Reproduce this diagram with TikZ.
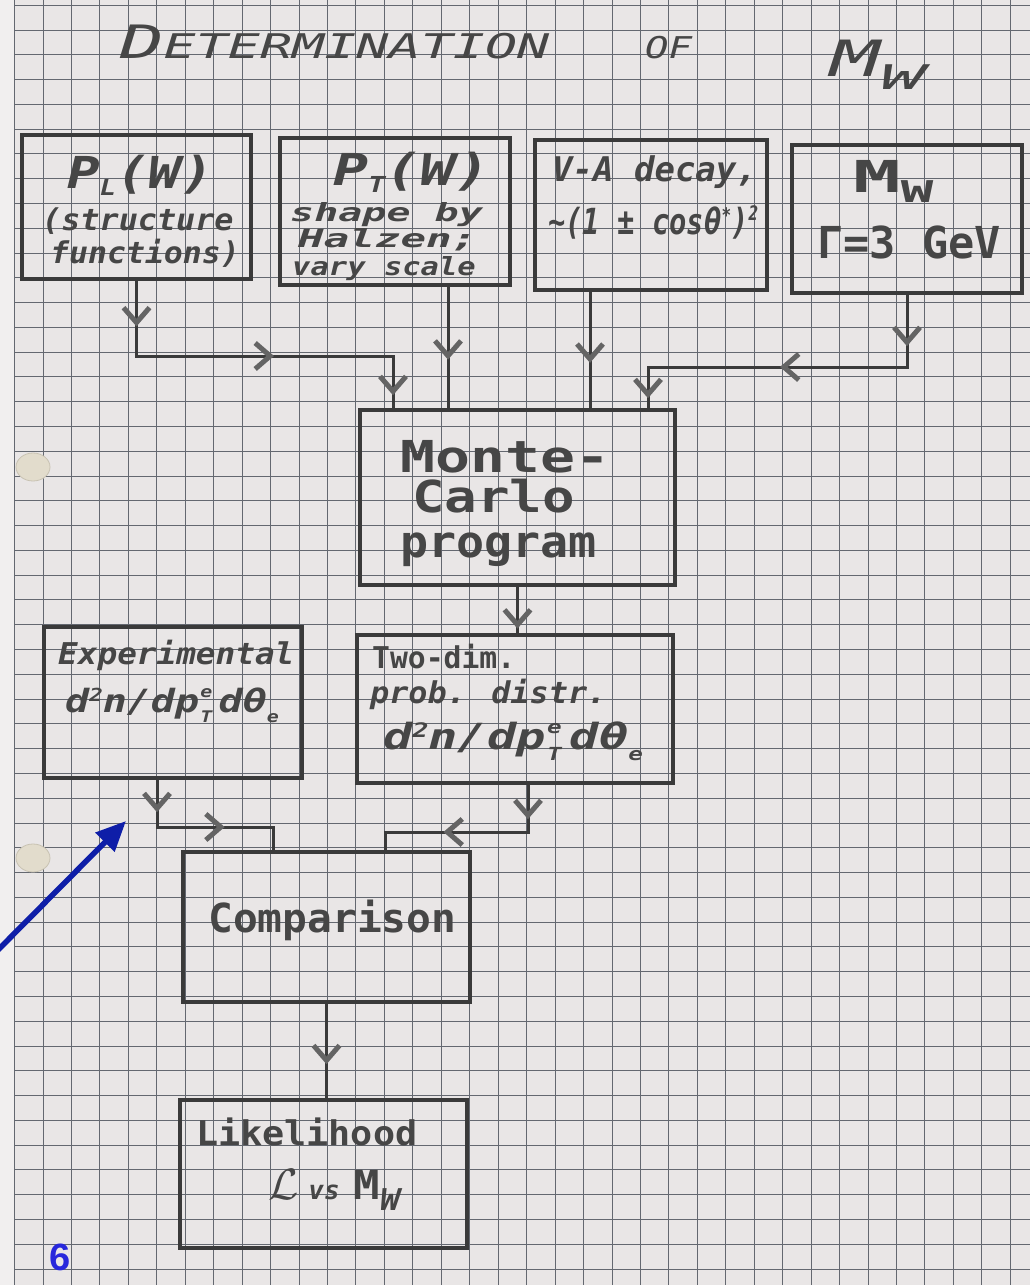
\documentclass[tikz,border=0pt]{standalone}
\usepackage{fontspec}
\usepackage{graphicx}
\usetikzlibrary{arrows.meta,decorations.markings,calc}
\newfontfamily\hand{DejaVu Sans Mono}
\newfontfamily\numfont{Liberation Sans}
\definecolor{paper}{RGB}{233,230,230}
\definecolor{paperedge}{RGB}{241,239,239}
\definecolor{gridc}{RGB}{100,104,112}
\definecolor{boxc}{RGB}{58,58,58}
\definecolor{inkc}{RGB}{70,70,70}
\definecolor{headc}{RGB}{100,100,100}
\definecolor{blueA}{RGB}{14,30,168}
\definecolor{blueN}{RGB}{40,40,220}
\definecolor{holec}{RGB}{226,220,204}
\definecolor{holeedge}{RGB}{200,194,178}
\newcommand{\fs}[1]{\fontsize{#1}{#1}\selectfont}
\newcommand{\sx}[2]{\scalebox{#1}[1]{#2}}
\tikzset{
  hd/.tip={Straight Barb[length=15pt,width=26pt,line width=5pt,color=headc]},
  gridl/.style={draw=gridc,line width=0.9pt},
  box/.style={draw=boxc,line width=3.5pt,inner sep=0pt},
  txt/.style={inner sep=0pt,anchor=base west,text=inkc,font=\hand\bfseries},
  conn/.style={draw=boxc,line width=3pt},
  amark/.style={postaction={decorate,decoration={markings,mark=at position #1 with {\arrow{hd}}}}},
  bluearr/.style={draw=blueA,line width=5.5pt,-{Triangle[length=30pt,width=26pt]}},
  hole/.style={fill=holec,draw=holeedge,line width=0.8pt}
}
\begin{document}
\begin{tikzpicture}[x=1pt,y=-1pt]
\useasboundingbox (0,0) rectangle (1030,1285);
% paper and grid
\fill[paperedge] (0,0) rectangle (1030,1285);
\fill[paper] (14.5,0) rectangle (1030,1285);
\foreach \i in {0,...,35} \draw[gridl] (14.5+28.45*\i,0) -- (14.5+28.45*\i,1285);
\foreach \j in {0,...,51} \draw[gridl] (14.5,5.2+24.78*\j) -- (1030,5.2+24.78*\j);
% reinforcement rings
\filldraw[hole] (33,467) ellipse [x radius=17pt,y radius=14pt];
\filldraw[hole] (33,858) ellipse [x radius=17pt,y radius=14pt];

% title
\node[txt,font=\hand\mdseries] (t1) at (120,58) {\itshape\sx{1.57}{\fs{46}D\fs{34}ETERMINATION}};
\node[txt,font=\hand\mdseries] (t2) at (645,58) {\itshape\sx{1.3}{\fs{30}OF}};
\node[txt,font=\hand\mdseries] (t3) at (830,76) {\itshape\sx{1.66}{\fs{50}M}\raisebox{-13pt}{\sx{2.2}{\fs{34}W}}};

% boxes
\node[box,minimum width=229pt,minimum height=144pt] (pl) at (136.5,207) {};
\node[box,minimum width=230pt,minimum height=147pt] (pt) at (395,211.5) {};
\node[box,minimum width=232pt,minimum height=150pt] (va) at (651,215) {};
\node[box,minimum width=230pt,minimum height=148pt] (mw) at (907,219) {};
\node[box,minimum width=315pt,minimum height=175pt] (mc) at (517.5,497.5) {};
\node[box,minimum width=258pt,minimum height=151pt] (ex) at (173,702.5) {};
\node[box,minimum width=316pt,minimum height=148pt] (two) at (515,709) {};
\node[box,minimum width=287pt,minimum height=150pt] (comp) at (326.5,927) {};
\node[box,minimum width=287pt,minimum height=148pt] (lik) at (323.5,1174) {};

% box texts
\node[txt] (pl1) at (67,188) {\itshape\sx{1.23}{\fs{44}P\raisebox{-7pt}{\fs{22}L}(W)}};
\node[txt] (pl2) at (42,230) {\itshape\sx{1.06}{\fs{30}(structure}};
\node[txt] (pl3) at (50,263) {\itshape\sx{1.05}{\fs{30}functions)}};

\node[txt] (pt1) at (333,185) {\itshape\sx{1.32}{\fs{44}P\raisebox{-7pt}{\fs{22}T}(W)}};
\node[txt] (pt2) at (290,221) {\itshape\sx{1.6}{\fs{25}shape by}};
\node[txt] (pt3) at (298,247) {\itshape\sx{1.7}{\fs{25}Halzen;}};
\node[txt] (pt4) at (292,275) {\itshape\sx{1.22}{\fs{25}vary scale}};

\node[txt] (va1) at (552,181) {\itshape\sx{1.0}{\fs{34}V-A decay,}};
\node[txt] (va2) at (548,234) {\itshape\sx{0.8}{\fs{36}\textasciitilde(1 ± cosθ\raisebox{12pt}{\fs{20}*})\raisebox{14pt}{\fs{20}2}}};

\node[txt] (mw1) at (853,192) {\sx{1.8}{\fs{44}M\raisebox{-10pt}{\fs{30}W}}};
\node[txt] (mw2) at (817,258) {\sx{0.99}{\fs{44}Γ=3 GeV}};

\node[txt] (mc1) at (400,472) {\sx{1.32}{\fs{44}Monte-}};
\node[txt] (mc2) at (412,512) {\sx{1.23}{\fs{44}Carlo}};
\node[txt] (mc3) at (400,557) {\sx{1.06}{\fs{44}program}};

\node[txt] (ex1) at (58,664) {\itshape\sx{1.09}{\fs{30}Experimental}};
\node[txt] (ex2) at (65,712) {\itshape\sx{1.25}{\fs{32}d\raisebox{11pt}{\fs{18}2}n/dp\kern1pt\rlap{\raisebox{15pt}{\fs{16}e}}\raisebox{-10pt}{\fs{16}T}\kern5pt dθ\raisebox{-10pt}{\fs{16}e}}};

\node[txt] (tw1) at (372,668) {\sx{0.99}{\fs{30}Two-dim.}};
\node[txt] (tw2) at (370,703) {\itshape\sx{1.06}{\fs{30}prob. distr.}};
\node[txt] (tw3) at (383,749) {\itshape\sx{1.35}{\fs{36}d\raisebox{12pt}{\fs{20}2}n/dp\kern1pt\rlap{\raisebox{16pt}{\fs{18}e}}\raisebox{-11pt}{\fs{18}T}\kern6pt dθ\raisebox{-11pt}{\fs{18}e}}};

\node[txt] (cp1) at (208,932) {\sx{1.03}{\fs{40}Comparison}};

\node[txt] (lk1) at (196,1145) {\sx{1.08}{\fs{34}Likelihood}};
\node[txt] (lk2) at (268,1199) {\resizebox{!}{30pt}{$\mathcal{L}$}\kern10pt\itshape\fs{26}vs\kern14pt\upshape\sx{1.1}{\fs{40}M\raisebox{-11pt}{\itshape\fs{30}W}}};

% junction coordinates
\coordinate (j1) at (393,356);
\coordinate (ptout) at ($(pt.south)+(53,0)$);
\coordinate (vaout) at ($(va.south)+(-61,0)$);
\coordinate (j4) at (648,367);
\coordinate (twout) at ($(two.south)+(13,0)$);
\coordinate (j6) at (385,832);
\coordinate (exout) at ($(ex.south)+(-16,0)$);
\coordinate (j7) at (273,827);

% connectors
\draw[conn,amark=0.119,amark=0.554,amark=0.966] (pl.south) |- (j1) -- (j1 |- mc.north);
\draw[conn,amark=0.6] (ptout) -- (ptout |- mc.north);
\draw[conn,amark=0.61] (vaout) -- (vaout |- mc.north);
\draw[conn,amark=0.138,amark=0.535,amark=0.973] (mw.south) |- (j4) -- (j4 |- mc.north);
\draw[conn,amark=0.9] (mc.south) -- (mc.south |- two.north);
\draw[conn,amark=0.165,amark=0.632] (twout) |- (j6) -- (j6 |- comp.north);
\draw[conn,amark=0.174,amark=0.616] (exout) |- (j7) -- (j7 |- comp.north);
\draw[conn,amark=0.64] (comp.south) -- (comp.south |- lik.north);

% annotations
\coordinate (bt) at (-8,956);
\coordinate (bh) at (126,821);
\draw[bluearr] (bt) -- (bh);
\node[text=blueN,font=\numfont\bfseries\fs{38},inner sep=0pt,anchor=base] (pg) at (60,1270) {6};
\end{tikzpicture}
\end{document}
